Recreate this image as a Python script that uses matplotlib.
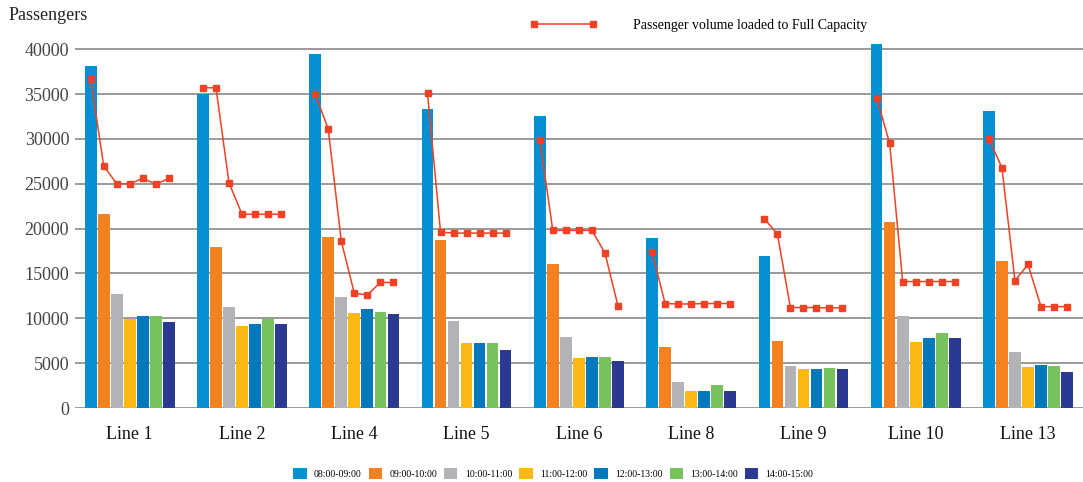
import numpy as np
import matplotlib.pyplot as plt
from matplotlib.lines import Line2D

plt.rcParams['font.family'] = ['Liberation Serif', 'DejaVu Serif']

lines = ['Line 1', 'Line 2', 'Line 4', 'Line 5', 'Line 6', 'Line 8', 'Line 9', 'Line 10', 'Line 13']
periods = ['08:00-09:00', '09:00-10:00', '10:00-11:00', '11:00-12:00',
           '12:00-13:00', '13:00-14:00', '14:00-15:00']
colors = ['#0590d4', '#f5821f', '#b1b3b6', '#fdb913', '#0079bc', '#78c25e', '#2b3990']

# passengers per period, one list per line
passengers = [
    [38100, 21600, 12700, 9900, 10300, 10300, 9600],
    [35000, 18000, 11300, 9100, 9400, 9900, 9400],
    [39500, 19100, 12400, 10600, 11000, 10700, 10500],
    [33300, 18700, 9700, 7200, 7200, 7200, 6500],
    [32600, 16100, 7900, 5600, 5700, 5700, 5200],
    [19000, 6800, 2900, 1900, 1900, 2600, 1900],
    [16900, 7500, 4700, 4300, 4300, 4500, 4400],
    [40600, 20700, 10300, 7400, 7800, 8400, 7800],
    [33100, 16400, 6200, 4600, 4800, 4700, 4000],
]

# passenger volume loaded to full capacity
full_capacity = [
    [36700, 27000, 25000, 25000, 25600, 24950, 25600],
    [35700, 35700, 25100, 21600, 21600, 21600, 21600],
    [35000, 31100, 18600, 12800, 12600, 14000, 14000],
    [35100, 19600, 19500, 19500, 19500, 19500, 19500],
    [29900, 19800, 19800, 19800, 19800, 17300, 11400],
    [17400, 11650, 11600, 11600, 11650, 11650, 11650],
    [21100, 19400, 11200, 11200, 11200, 11150, 11200],
    [34600, 29500, 14100, 14100, 14100, 14100, 14100],
    [30000, 26800, 14200, 16000, 11300, 11300, 11300],
]

data = np.array(passengers)
cap = np.array(full_capacity)

fig = plt.figure(figsize=(10.83, 4.82), dpi=100)
ax = fig.add_axes([0.069, 0.1535, 0.931, 0.763])

x = np.arange(len(lines))
step = 0.116
width = 0.104
offsets = (np.arange(len(periods)) - 3) * step

bars = []
for j in range(len(periods)):
    b = ax.bar(x + offsets[j], data[:, j], width, color=colors[j], label=periods[j], zorder=2)
    bars.append(b)

for i in range(len(lines)):
    ax.plot(x[i] + offsets, cap[i], color='#ef4123', lw=1.1, marker='s', ms=5, zorder=3)

ax.set_xlim(-0.49, 8.49)
ax.set_ylim(0, 41000)
ax.set_yticks(np.arange(0, 40001, 5000))
ax.set_xticks(x)
ax.set_xticklabels(lines, fontsize=13)
ax.tick_params(axis='y', length=0, pad=4, labelsize=13, labelcolor='#444444')
ax.tick_params(axis='x', length=0, pad=13, labelcolor='#111111')
ax.yaxis.grid(True, color='#9a9a9a', lw=1.4, zorder=0)
ax.set_axisbelow(True)
for s in ax.spines.values():
    s.set_visible(False)

fig.text(0.008, 0.967, 'Passengers', fontsize=13, color='#222222', va='center')

h = Line2D([], [], color='#ef4123', lw=1.1, marker='s', ms=5)
fig.legend([h], ['Passenger volume loaded to Full Capacity'], loc='center left',
           bbox_to_anchor=(0.478, 0.948), frameon=False, fontsize=10,
           handlelength=4.8, handletextpad=2.6, numpoints=2)

fig.legend(handles=bars, labels=periods, loc='center', bbox_to_anchor=(0.511, 0.017),
           ncol=7, frameon=False, fontsize=7, handlelength=1.35, handleheight=1.35,
           handletextpad=0.75, columnspacing=0.75)

fig.savefig('out.png', dpi=100)
